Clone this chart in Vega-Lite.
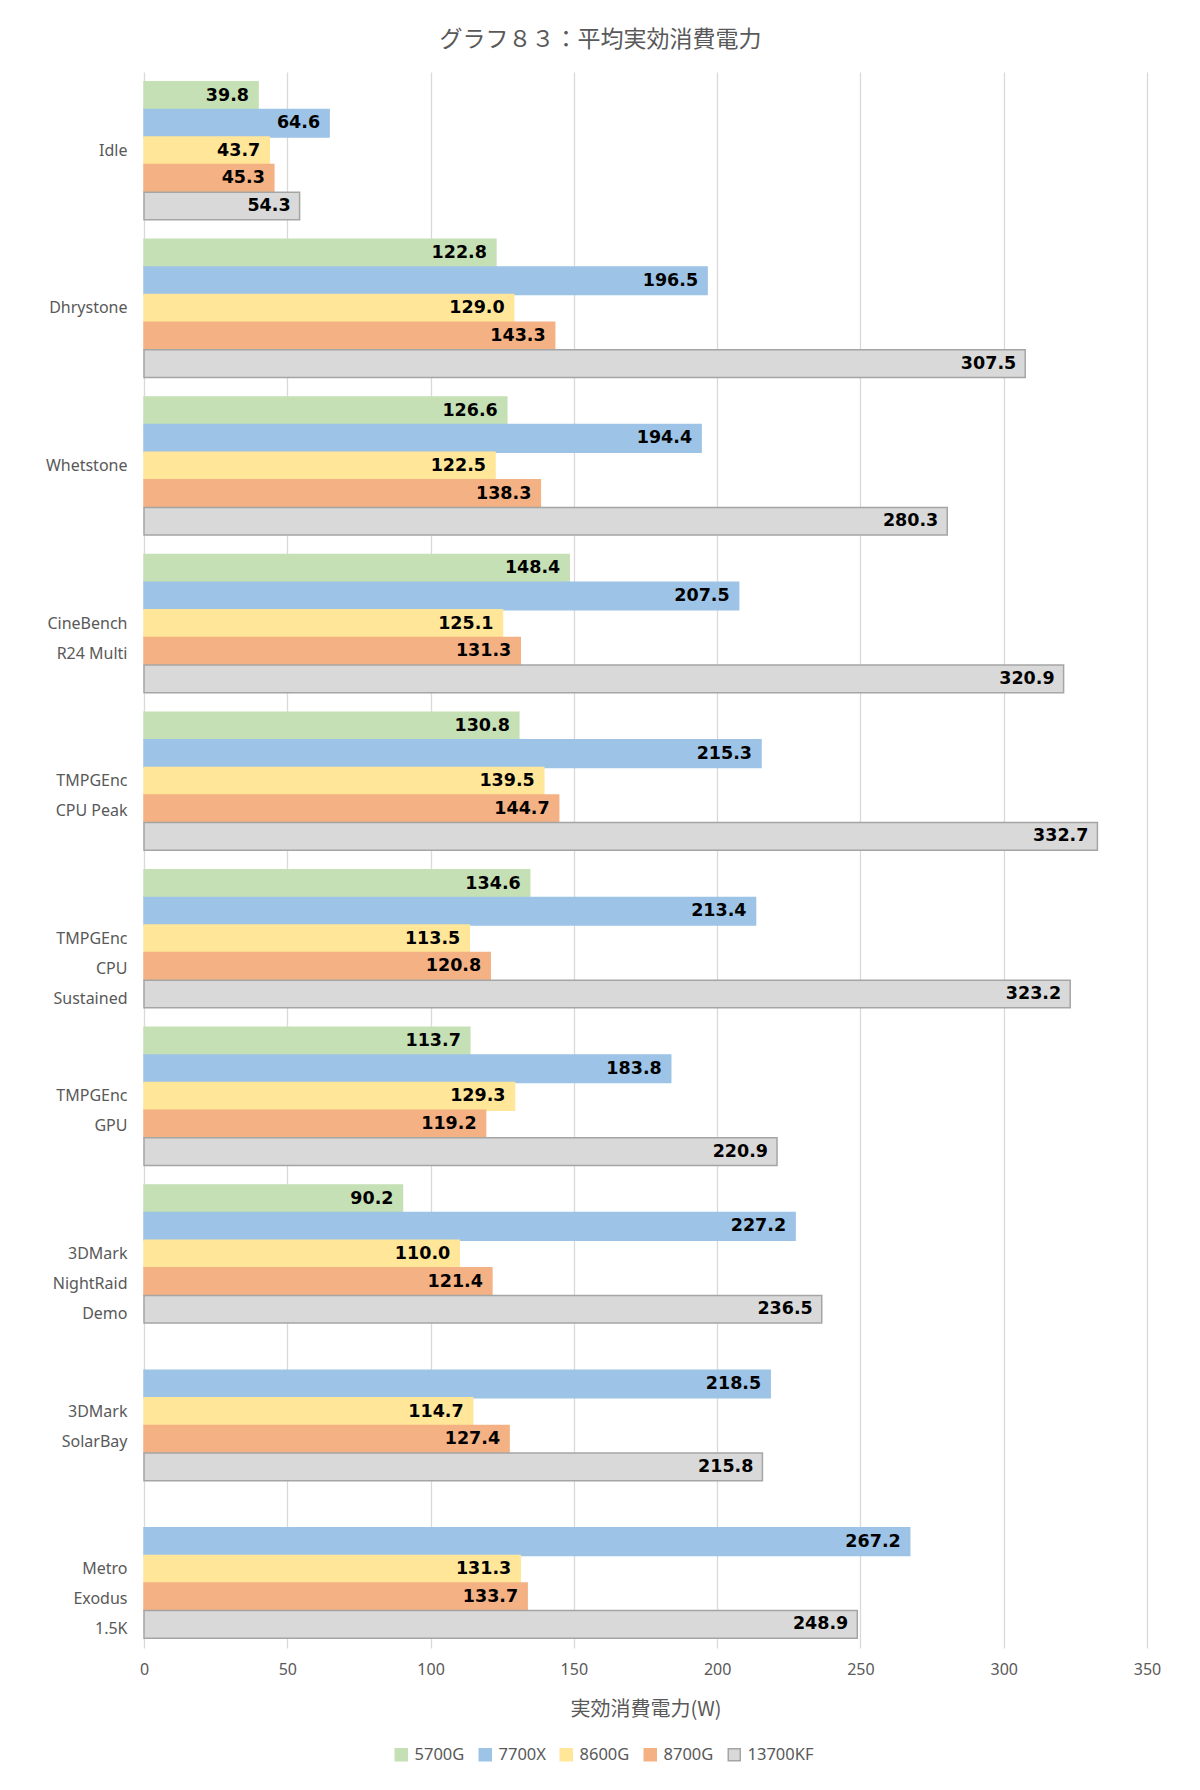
{
  "$schema": "https://vega.github.io/schema/vega-lite/v6.json",
  "width": 1003,
  "height": 1576,
  "autosize": {"type": "none"},
  "padding": {"left": 144, "top": 72, "right": 53, "bottom": 142},
  "background": "white",
  "title": {
    "text": "グラフ８３：平均実効消費電力",
    "font": "Noto Sans CJK JP",
    "fontSize": 23,
    "fontWeight": "normal",
    "color": "#595959",
    "anchor": "middle",
    "baseline": "bottom",
    "offset": 0,
    "dy": 3,
    "dx": -45
  },
  "data": {
    "values": [
      {"test": "Idle", "series": "5700G", "value": 39.8},
      {"test": "Idle", "series": "7700X", "value": 64.6},
      {"test": "Idle", "series": "8600G", "value": 43.7},
      {"test": "Idle", "series": "8700G", "value": 45.3},
      {"test": "Idle", "series": "13700KF", "value": 54.3},
      {"test": "Dhrystone", "series": "5700G", "value": 122.8},
      {"test": "Dhrystone", "series": "7700X", "value": 196.5},
      {"test": "Dhrystone", "series": "8600G", "value": 129.0},
      {"test": "Dhrystone", "series": "8700G", "value": 143.3},
      {"test": "Dhrystone", "series": "13700KF", "value": 307.5},
      {"test": "Whetstone", "series": "5700G", "value": 126.6},
      {"test": "Whetstone", "series": "7700X", "value": 194.4},
      {"test": "Whetstone", "series": "8600G", "value": 122.5},
      {"test": "Whetstone", "series": "8700G", "value": 138.3},
      {"test": "Whetstone", "series": "13700KF", "value": 280.3},
      {"test": "CineBench|R24 Multi", "series": "5700G", "value": 148.4},
      {"test": "CineBench|R24 Multi", "series": "7700X", "value": 207.5},
      {"test": "CineBench|R24 Multi", "series": "8600G", "value": 125.1},
      {"test": "CineBench|R24 Multi", "series": "8700G", "value": 131.3},
      {"test": "CineBench|R24 Multi", "series": "13700KF", "value": 320.9},
      {"test": "TMPGEnc|CPU Peak", "series": "5700G", "value": 130.8},
      {"test": "TMPGEnc|CPU Peak", "series": "7700X", "value": 215.3},
      {"test": "TMPGEnc|CPU Peak", "series": "8600G", "value": 139.5},
      {"test": "TMPGEnc|CPU Peak", "series": "8700G", "value": 144.7},
      {"test": "TMPGEnc|CPU Peak", "series": "13700KF", "value": 332.7},
      {"test": "TMPGEnc|CPU|Sustained", "series": "5700G", "value": 134.6},
      {"test": "TMPGEnc|CPU|Sustained", "series": "7700X", "value": 213.4},
      {"test": "TMPGEnc|CPU|Sustained", "series": "8600G", "value": 113.5},
      {"test": "TMPGEnc|CPU|Sustained", "series": "8700G", "value": 120.8},
      {"test": "TMPGEnc|CPU|Sustained", "series": "13700KF", "value": 323.2},
      {"test": "TMPGEnc|GPU", "series": "5700G", "value": 113.7},
      {"test": "TMPGEnc|GPU", "series": "7700X", "value": 183.8},
      {"test": "TMPGEnc|GPU", "series": "8600G", "value": 129.3},
      {"test": "TMPGEnc|GPU", "series": "8700G", "value": 119.2},
      {"test": "TMPGEnc|GPU", "series": "13700KF", "value": 220.9},
      {"test": "3DMark|NightRaid|Demo", "series": "5700G", "value": 90.2},
      {"test": "3DMark|NightRaid|Demo", "series": "7700X", "value": 227.2},
      {"test": "3DMark|NightRaid|Demo", "series": "8600G", "value": 110.0},
      {"test": "3DMark|NightRaid|Demo", "series": "8700G", "value": 121.4},
      {"test": "3DMark|NightRaid|Demo", "series": "13700KF", "value": 236.5},
      {"test": "3DMark|SolarBay", "series": "7700X", "value": 218.5},
      {"test": "3DMark|SolarBay", "series": "8600G", "value": 114.7},
      {"test": "3DMark|SolarBay", "series": "8700G", "value": 127.4},
      {"test": "3DMark|SolarBay", "series": "13700KF", "value": 215.8},
      {"test": "Metro|Exodus|1.5K", "series": "7700X", "value": 267.2},
      {"test": "Metro|Exodus|1.5K", "series": "8600G", "value": 131.3},
      {"test": "Metro|Exodus|1.5K", "series": "8700G", "value": 133.7},
      {"test": "Metro|Exodus|1.5K", "series": "13700KF", "value": 248.9}
    ]
  },
  "encoding": {
    "y": {
      "field": "test",
      "type": "nominal",
      "sort": null,
      "scale": {"paddingInner": 0.124, "paddingOuter": 0.062},
      "axis": {
        "title": null,
        "ticks": false,
        "domain": false,
        "grid": false,
        "labelExpr": "split(datum.label, '|')",
        "labelFont": "Noto Sans",
        "labelFontSize": 16,
        "labelColor": "#595959",
        "labelPadding": 17,
        "labelLineHeight": 30,
        "labelAlign": "right",
        "labelBaseline": "middle",
        "labelLimit": 300
      }
    },
    "yOffset": {
      "field": "series",
      "type": "nominal",
      "scale": {"domain": ["5700G", "7700X", "8600G", "8700G", "13700KF"], "paddingInner": 0, "paddingOuter": 0}
    },
    "x": {
      "field": "value",
      "type": "quantitative",
      "scale": {"domain": [0, 350], "nice": false},
      "axis": {
        "values": [0, 50, 100, 150, 200, 250, 300, 350],
        "title": "実効消費電力(W)",
        "titleFont": "Noto Sans CJK JP",
        "titleFontSize": 20,
        "titleFontWeight": "normal",
        "titleColor": "#595959",
        "titlePadding": 22,
        "labelFont": "Noto Sans",
        "labelFontSize": 16,
        "labelColor": "#595959",
        "labelPadding": 13,
        "labelFlush": false,
        "ticks": false,
        "domain": false,
        "grid": true,
        "gridColor": "#D9D9D9",
        "gridWidth": 1.3
      }
    }
  },
  "layer": [
    {
      "mark": {"type": "bar", "strokeWidth": 1.5},
      "encoding": {
        "fill": {
          "field": "series",
          "type": "nominal",
          "scale": {
            "domain": ["5700G", "7700X", "8600G", "8700G", "13700KF"],
            "range": ["#C5E0B4", "#9DC3E6", "#FFE699", "#F4B183", "#D9D9D9"]
          },
          "legend": {
            "title": null,
            "orient": "none",
            "direction": "horizontal",
            "legendX": 249,
            "legendY": 1674,
            "symbolType": "square",
            "symbolSize": 144,
            "labelFont": "Noto Sans",
            "labelFontSize": 16.5,
            "labelColor": "#595959",
            "labelOffset": 5,
            "columnPadding": 11
          }
        },
        "stroke": {
          "field": "series",
          "type": "nominal",
          "scale": {
            "domain": ["5700G", "7700X", "8600G", "8700G", "13700KF"],
            "range": ["#C5E0B4", "#9DC3E6", "#FFE699", "#F4B183", "#A5A5A5"]
          },
          "legend": {
            "title": null,
            "orient": "none",
            "direction": "horizontal",
            "legendX": 249,
            "legendY": 1674,
            "symbolType": "square",
            "symbolSize": 144,
            "labelFont": "Noto Sans",
            "labelFontSize": 16.5,
            "labelColor": "#595959",
            "labelOffset": 5,
            "columnPadding": 11
          }
        }
      }
    },
    {
      "mark": {
        "type": "text",
        "align": "right",
        "baseline": "middle",
        "dx": -9,
        "font": "DejaVu Sans",
        "fontSize": 17.5,
        "fontWeight": "bold",
        "color": "#000000"
      },
      "encoding": {
        "text": {"field": "value", "type": "quantitative", "format": ".1f"}
      }
    }
  ],
  "config": {
    "view": {"stroke": null}
  }
}
